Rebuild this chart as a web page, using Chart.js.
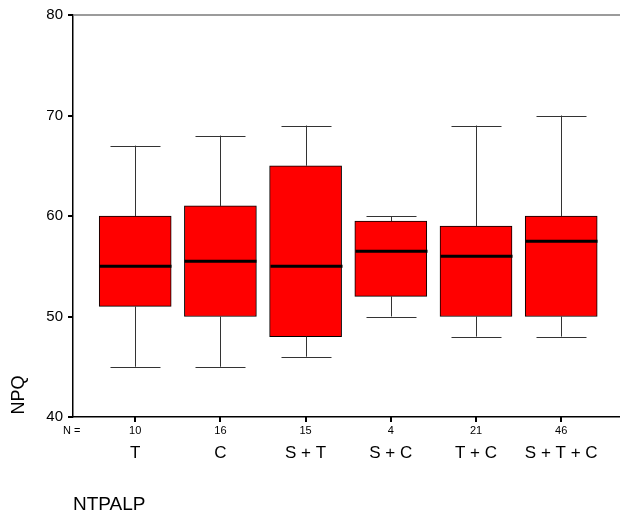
<!DOCTYPE html>
<html>
<head>
<meta charset="utf-8">
<script src="https://cdn.jsdelivr.net/npm/chart.js@4/dist/chart.umd.min.js"></script>
<style>
  body { margin: 0; background: #fff; }
  canvas { display: block; }
</style>
</head>
<body>
<canvas id="myChart" width="620" height="516"></canvas>
<script>
// group labels and n per group
const categories = ['T', 'C', 'S + T', 'S + C', 'T + C', 'S + T + C'];
const counts = [10, 16, 15, 4, 21, 46];
// box stats
const whiskerLow = [45, 45, 46, 50, 48, 48];
const q1 = [51, 50, 48, 52, 50, 50];
const medians = [55, 55.5, 55, 56.5, 56, 57.5];
const q3 = [60, 61, 65, 59.5, 59, 60];
const whiskerHigh = [67, 68, 69, 60, 69, 70];
const yTicks = [40, 50, 60, 70, 80];

const FONT = '"Liberation Sans", Arial, sans-serif';

// whiskers, medians, frame and the text SPSS puts under the axis
const boxExtras = {
    id: 'boxExtras',
    afterDatasetsDraw(chart) {
        const ctx = chart.ctx;
        const x = chart.scales.x, y = chart.scales.y;
        const area = chart.chartArea;
        ctx.save();
        // top frame line
        ctx.strokeStyle = '#7a7a7a';
        ctx.lineWidth = 1.5;
        ctx.beginPath();
        ctx.moveTo(area.left, area.top);
        ctx.lineTo(area.right, area.top);
        ctx.stroke();

        categories.forEach((c, i) => {
            const px = Math.round(x.getPixelForValue(i)) + 0.5;
            const capHalf = 25;
            ctx.strokeStyle = '#333';
            ctx.lineWidth = 1;
            ctx.beginPath();
            ctx.moveTo(px, y.getPixelForValue(q3[i]));
            ctx.lineTo(px, y.getPixelForValue(whiskerHigh[i]));
            ctx.moveTo(px, y.getPixelForValue(q1[i]));
            ctx.lineTo(px, y.getPixelForValue(whiskerLow[i]));
            const hi = Math.round(y.getPixelForValue(whiskerHigh[i])) + 0.5;
            const lo = Math.round(y.getPixelForValue(whiskerLow[i])) + 0.5;
            ctx.moveTo(px - capHalf, hi);
            ctx.lineTo(px + capHalf, hi);
            ctx.moveTo(px - capHalf, lo);
            ctx.lineTo(px + capHalf, lo);
            ctx.stroke();

            // median
            ctx.strokeStyle = '#000';
            ctx.lineWidth = 3;
            const my = y.getPixelForValue(medians[i]);
            ctx.beginPath();
            ctx.moveTo(px - 36, my);
            ctx.lineTo(px + 36, my);
            ctx.stroke();
        });
        ctx.restore();
    },
    afterDraw(chart) {
        const ctx = chart.ctx;
        const x = chart.scales.x, y = chart.scales.y;
        const area = chart.chartArea;
        ctx.save();
        // tick marks
        ctx.strokeStyle = '#000';
        ctx.lineWidth = 2;
        ctx.beginPath();
        categories.forEach((c, i) => {
            const px = Math.round(x.getPixelForValue(i));
            ctx.moveTo(px, area.bottom);
            ctx.lineTo(px, area.bottom + 5);
        });
        yTicks.forEach(v => {
            const py = Math.round(y.getPixelForValue(v));
            ctx.moveTo(area.left, py);
            ctx.lineTo(area.left - 5, py);
        });
        ctx.stroke();

        ctx.fillStyle = '#000';
        ctx.textBaseline = 'middle';
        ctx.font = '11px ' + FONT;
        ctx.textAlign = 'left';
        ctx.fillText('N =', 63, 431);
        ctx.textAlign = 'center';
        categories.forEach((c, i) => {
            const px = x.getPixelForValue(i);
            ctx.font = '11px ' + FONT;
            ctx.fillText(String(counts[i]), px, 431);
            ctx.font = '17px ' + FONT;
            ctx.fillText(c, px, 453);
        });

        // axis titles
        ctx.font = '19px ' + FONT;
        ctx.textAlign = 'left';
        ctx.textBaseline = 'alphabetic';
        ctx.fillText('NTPALP', area.left, 510);

        ctx.translate(24, 395);
        ctx.rotate(-Math.PI / 2);
        ctx.font = '18px ' + FONT;
        ctx.textAlign = 'center';
        ctx.fillText('NPQ', 0, 0);
        ctx.restore();
    }
};

var ctx = document.getElementById('myChart').getContext('2d');
const chart = new Chart(ctx, {
    type: 'bar',
    data: {
        datasets: [{
            data: categories.map((c, i) => ({ x: i, y: [q1[i], q3[i]] })),
            backgroundColor: '#ff0000',
            borderColor: '#000',
            borderWidth: 1,
            borderSkipped: false,
            barThickness: 72
        }]
    },
    options: {
        responsive: false,
        animation: false,
        layout: { padding: { top: 14, right: 0, left: 0, bottom: 0 } },
        plugins: {
            legend: { display: false },
            tooltip: { enabled: false }
        },
        scales: {
            x: {
                type: 'linear',
                min: -0.73,
                max: 5.69,
                offset: false,
                afterBuildTicks: s => { s.ticks = categories.map((c, i) => ({ value: i })); },
                afterFit: s => { s.height = 99; },
                ticks: { display: false },
                grid: { display: false },
                border: { display: true, color: '#000', width: 1.5 }
            },
            y: {
                min: 40,
                max: 80,
                afterBuildTicks: s => { s.ticks = yTicks.map(v => ({ value: v })); },
                afterFit: s => { s.width = 73; },
                ticks: { color: '#000', padding: 6, font: { family: FONT, size: 15 } },
                grid: { drawOnChartArea: false, tickLength: 4, color: '#000', lineWidth: 1.5 },
                border: { color: '#000', width: 1.5 }
            }
        }
    },
    plugins: [boxExtras]
});
</script>
</body>
</html>
